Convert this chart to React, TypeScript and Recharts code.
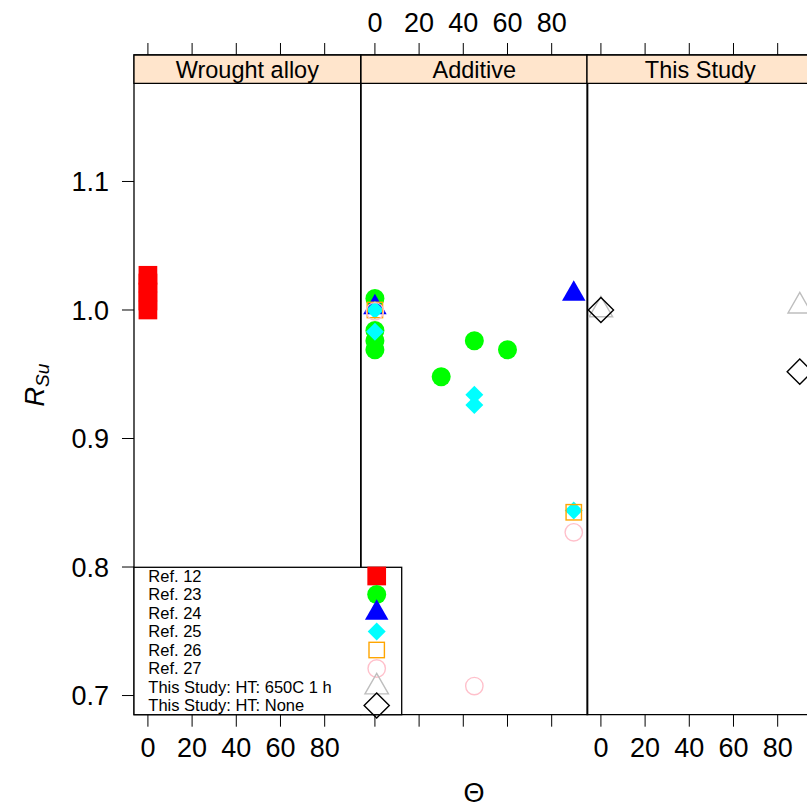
import React from 'react';
import { ScatterChart, Scatter, XAxis, YAxis, ReferenceArea } from 'recharts';

const PANELS = ['Wrought alloy', 'Additive', 'This Study'];
const THETA_TICKS = [0, 20, 40, 60, 80];
const RSU_TICKS = [0.7, 0.8, 0.9, 1.0, 1.1];

// values (theta in deg, R_Su)
const REF12_THETA = [0, 0, 0, 0, 0];
const REF12_RSU = [1.0, 1.007, 1.014, 1.021, 1.027];
const REF23_THETA = [0, 0, 0, 0, 30, 45, 60];
const REF23_RSU = [1.009, 0.984, 0.976, 0.969, 0.948, 0.976, 0.969];
const REF24_THETA = [0, 90];
const REF24_RSU = [1.002, 1.0126];
const REF25_THETA = [0, 0, 45, 45, 90];
const REF25_RSU = [1.0, 0.983, 0.934, 0.926, 0.844];
const REF26_THETA = [0, 90];
const REF26_RSU = [1.0, 0.8426];
const REF27_THETA = [0, 45, 90];
const REF27_RSU = [0.999, 0.7074, 0.827];
const HT650_THETA = [0, 90];
const HT650_RSU = [1.0, 1.003];
const HTNONE_THETA = [0, 90];
const HTNONE_RSU = [1.0, 0.952];

type Kind = 'sqFill' | 'circFill' | 'triFill' | 'diaFill' | 'sqOpen' | 'circOpen' | 'triOpen' | 'diaOpen';

const SERIES: { name: string; panel: number; kind: Kind; color: string; theta: number[]; rsu: number[] }[] = [
  { name: 'Ref. 12', panel: 0, kind: 'sqFill', color: '#FF0000', theta: REF12_THETA, rsu: REF12_RSU },
  { name: 'Ref. 23', panel: 1, kind: 'circFill', color: '#00FF00', theta: REF23_THETA, rsu: REF23_RSU },
  { name: 'Ref. 24', panel: 1, kind: 'triFill', color: '#0000FF', theta: REF24_THETA, rsu: REF24_RSU },
  { name: 'Ref. 25', panel: 1, kind: 'diaFill', color: '#00FFFF', theta: REF25_THETA, rsu: REF25_RSU },
  { name: 'Ref. 26', panel: 1, kind: 'sqOpen', color: '#FFA500', theta: REF26_THETA, rsu: REF26_RSU },
  { name: 'Ref. 27', panel: 1, kind: 'circOpen', color: '#FFC0CB', theta: REF27_THETA, rsu: REF27_RSU },
  { name: 'This Study: HT: 650C 1 h', panel: 2, kind: 'triOpen', color: '#BEBEBE', theta: HT650_THETA, rsu: HT650_RSU },
  { name: 'This Study: HT: None', panel: 2, kind: 'diaOpen', color: '#000000', theta: HTNONE_THETA, rsu: HTNONE_RSU },
];

// lattice-style limits (strip sits inside the top of the y range)
const X_MIN = -6.3;
const X_MAX = 96.3;
const Y_MIN = 0.6851;
const Y_MAX = 1.1984;
const STRIP_LOW = 1.1763;

const LEFT0 = 134;
const PANEL_W = 226.7;
const PAD = 4; // keeps the panel border strokes inside each svg
const FONT = '"Liberation Sans", Arial, Helvetica, sans-serif';

function Marker({ kind, color, cx, cy }: { kind: Kind; color: string; cx: number; cy: number }) {
  switch (kind) {
    case 'sqFill':
      return <rect x={cx - 9.35} y={cy - 9.35} width={18.7} height={18.7} fill={color} />;
    case 'circFill':
      return <circle cx={cx} cy={cy} r={9.5} fill={color} />;
    case 'triFill': {
      const w = 23.5, h = 20.5;
      return <polygon points={`${cx},${cy - (2 * h) / 3} ${cx + w / 2},${cy + h / 3} ${cx - w / 2},${cy + h / 3}`} fill={color} />;
    }
    case 'diaFill':
      return <polygon points={`${cx},${cy - 9} ${cx + 9},${cy} ${cx},${cy + 9} ${cx - 9},${cy}`} fill={color} />;
    case 'sqOpen':
      return <rect x={cx - 7.7} y={cy - 7.7} width={15.4} height={15.4} fill="none" stroke={color} strokeWidth={1.4} />;
    case 'circOpen':
      return <circle cx={cx} cy={cy} r={8.7} fill="none" stroke={color} strokeWidth={1.4} />;
    case 'triOpen': {
      const w = 23.5, h = 20.5;
      return (
        <polygon
          points={`${cx},${cy - (2 * h) / 3} ${cx + w / 2},${cy + h / 3} ${cx - w / 2},${cy + h / 3}`}
          fill="none"
          stroke={color}
          strokeWidth={1.4}
        />
      );
    }
    case 'diaOpen':
      return (
        <polygon
          points={`${cx},${cy - 12.6} ${cx + 12.6},${cy} ${cx},${cy + 12.6} ${cx - 12.6},${cy}`}
          fill="none"
          stroke={color}
          strokeWidth={1.4}
        />
      );
  }
  return null;
}

const noTick = () => <g />;
const tickStyle = { fontSize: 27, fill: '#000' };

function Panel({ index }: { index: number }) {
  const extra = index === 0 ? LEFT0 : 0;
  const left = LEFT0 + index * PANEL_W - extra - (index === 0 ? 0 : PAD);
  const series = SERIES.filter((s) => s.panel === index);

  return (
    <div style={{ position: 'absolute', left, top: 0 }}>
      <ScatterChart
        width={PANEL_W + extra + PAD * (index === 0 ? 1 : 2)}
        height={807}
        margin={{ top: 54, right: PAD, bottom: 91.3, left: index === 0 ? 0 : PAD }}
      >
        <XAxis
          xAxisId="top"
          orientation="top"
          dataKey="theta"
          type="number"
          domain={[X_MIN, X_MAX]}
          allowDataOverflow
          ticks={THETA_TICKS}
          interval={0}
          height={1}
          axisLine={false}
          stroke="#000"
          tickSize={12}
          tickMargin={11}
          tick={index === 1 ? tickStyle : noTick}
        />
        <XAxis
          xAxisId="bottom"
          orientation="bottom"
          dataKey="theta"
          type="number"
          domain={[X_MIN, X_MAX]}
          allowDataOverflow
          ticks={THETA_TICKS}
          interval={0}
          height={1}
          axisLine={false}
          stroke="#000"
          tickSize={12}
          tickMargin={11}
          tick={index !== 1 ? tickStyle : noTick}
        />
        <YAxis
          dataKey="rsu"
          type="number"
          domain={[Y_MIN, Y_MAX]}
          allowDataOverflow
          ticks={RSU_TICKS}
          interval={0}
          hide={index !== 0}
          width={LEFT0}
          axisLine={false}
          stroke="#000"
          tickSize={12}
          tickMargin={13}
          tick={tickStyle}
          tickFormatter={(v: number) => v.toFixed(1)}
        />
        <ReferenceArea
          xAxisId="bottom"
          x1={X_MIN}
          x2={X_MAX}
          y1={Y_MIN}
          y2={Y_MAX}
          fill="none"
          stroke="#000"
          strokeWidth={1.3}
        />
        <ReferenceArea
          xAxisId="bottom"
          x1={X_MIN}
          x2={X_MAX}
          y1={STRIP_LOW}
          y2={Y_MAX}
          fill="#FFE5CC"
          fillOpacity={1}
          stroke="#000"
          strokeWidth={1.3}
          label={{ value: PANELS[index], position: 'center', fill: '#000', fontSize: 23.5 }}
        />
        {series.map((s) => (
          <Scatter
            key={s.name}
            name={s.name}
            xAxisId="bottom"
            data={s.theta.map((t, i) => ({ theta: t, rsu: s.rsu[i] }))}
            isAnimationActive={false}
            shape={(p: any) => <Marker kind={s.kind} color={s.color} cx={p.cx} cy={p.cy} />}
          />
        ))}
      </ScatterChart>
    </div>
  );
}

function Overlay() {
  const rowY = (i: number) => 576 + i * 18.5;
  return (
    <svg
      width={807}
      height={807}
      style={{ position: 'absolute', left: 0, top: 0, pointerEvents: 'none', fontFamily: FONT }}
    >
      <rect x={134} y={567.3} width={267.7} height={147.4} fill="#fff" stroke="#000" strokeWidth={1.3} />
      {SERIES.map((s, i) => (
        <g key={s.name}>
          <text x={148.3} y={rowY(i) + 5.8} fontSize={16.5} fill="#000">
            {s.name}
          </text>
          <Marker kind={s.kind} color={s.color} cx={376.7} cy={rowY(i)} />
        </g>
      ))}
      <text x={474} y={802} fontSize={27} textAnchor="middle" fill="#000">
        Θ
      </text>
      <text x={44} y={385} transform="rotate(-90, 44, 385)" textAnchor="middle" fill="#000" fontStyle="italic">
        <tspan fontSize={27}>R</tspan>
        <tspan fontSize={19} dy={5}>
          Su
        </tspan>
      </text>
    </svg>
  );
}

export default function App() {
  return (
    <div
      style={{
        position: 'absolute',
        left: 0,
        top: 0,
        width: 807,
        height: 807,
        overflow: 'hidden',
        background: '#fff',
        fontFamily: FONT,
      }}
    >
      {PANELS.map((p, i) => (
        <Panel key={p} index={i} />
      ))}
      <Overlay />
    </div>
  );
}
